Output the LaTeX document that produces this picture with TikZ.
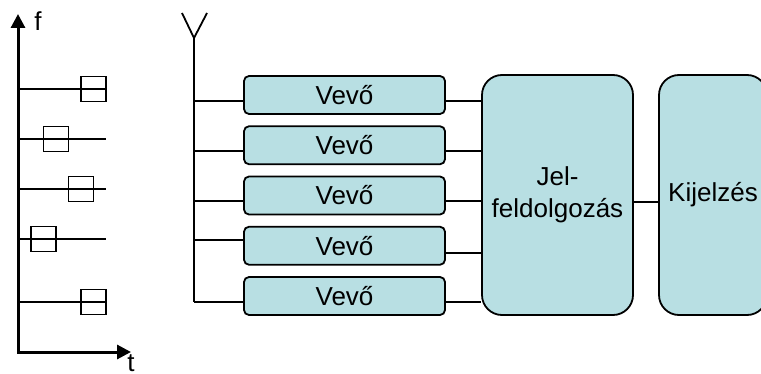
\documentclass[tikz,border=0pt]{standalone}
\usepackage{fontspec}
\setmainfont{Liberation Sans}
\usetikzlibrary{arrows.meta}
\definecolor{boxfill}{RGB}{184,223,227}
\tikzset{
  rx/.style={draw, fill=boxfill, rounded corners=2.5pt, minimum width=100.5pt,
    minimum height=19pt, line width=0.9pt, font=\fontsize{13}{15.5}\selectfont},
  big/.style={draw, fill=boxfill, rounded corners=10pt, minimum width=75.5pt,
    minimum height=120pt, line width=0.9pt, align=center,
    font=\fontsize{13}{16}\selectfont},
  slot/.style={draw, minimum size=12.5pt, inner sep=0pt, line width=0.9pt},
  wire/.style={line width=0.9pt},
  axis/.style={line width=1.5pt,
    {Triangle[length=7pt,width=7pt]}-{Triangle[length=7pt,width=7pt]}},
  lbl/.style={inner sep=0pt, font=\fontsize{13}{15.5}\selectfont},
}
\begin{document}
\begin{tikzpicture}[x=0.5pt,y=-0.5pt]
\useasboundingbox (0,0) rectangle (761,374);
% time-frequency plane
\coordinate (o) at (18,352);
\coordinate (ftop) at (18,14);
\coordinate (tend) at (131,352);
\draw[axis] (ftop) -- (o) -- (tend);
\node[lbl] (flabel) at (38,21) {f};
\node[lbl] (tlabel) at (131,363) {t};
\foreach \sx/\sy [count=\i] in {93.5/89, 56/139, 81/189, 43.5/239, 93.5/302} {
  \draw[wire] (18,\sy) -- (106,\sy);
  \node[slot] (s\i) at (\sx,\sy) {};
}
% antenna
\coordinate (tipl) at (182,13);
\coordinate (mast) at (194,38);
\coordinate (tipr) at (207,13);
\coordinate (foot) at (194,302);
\draw[wire] (tipl) -- (mast) -- (tipr);
\draw[wire] (mast) -- (foot);
% receivers
\foreach \i in {1,...,5}
  \node[rx] (v\i) at (344.5,{95+50.25*(\i-1)}) {Vevő};
\node[big] (jel) at (557.5,195) {Jel-\\feldolgozás};
\node[big, minimum width=54pt] (kij) at (713,195) {Kijelzés};
%edges
\foreach \i/\ls/\rs in {1/-3/-3, 2/-3/-3, 3/-2.75/-2.75, 4/3/-3.5, 5/-3/-3} {
  \draw[wire] ([yshift=\ls pt]v\i.west -| mast) -- ([yshift=\ls pt]v\i.west);
  \draw[wire] ([yshift=\rs pt]v\i.east) -- ([yshift=\rs pt]v\i.east -| jel.west);
}
\draw[wire] ([yshift=-3.5pt]jel.east) -- ([yshift=-3.5pt]jel.east -| kij.west);
\end{tikzpicture}
\end{document}
